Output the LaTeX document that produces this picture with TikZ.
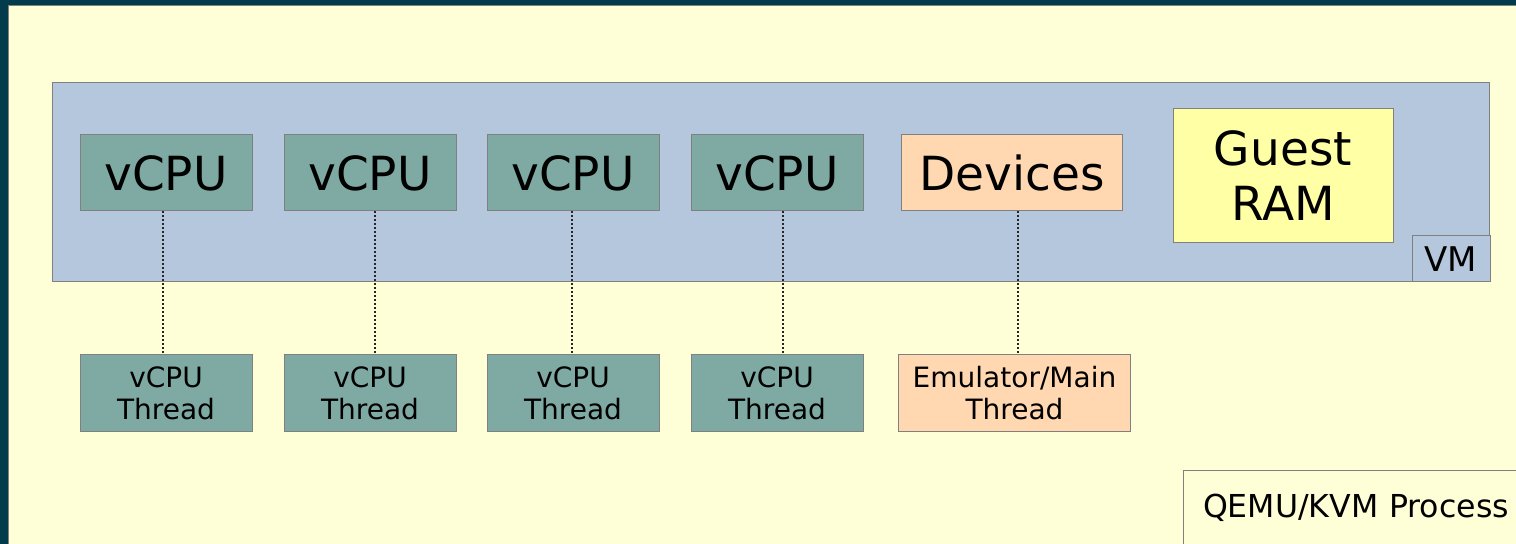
\documentclass[tikz,border=0pt]{standalone}
\usepackage{fontspec}
\setmainfont{DejaVu Sans}
\usepackage{tikz}
\definecolor{frame}{HTML}{023B4C}
\definecolor{paper}{HTML}{FFFFD7}
\definecolor{vmblue}{HTML}{B4C7DC}
\definecolor{cpugreen}{HTML}{7FAAA3}
\definecolor{devorange}{HTML}{FFD8B1}
\definecolor{ramyellow}{HTML}{FFFFA6}
\definecolor{edge}{HTML}{808080}

\begin{document}
\begin{tikzpicture}[
  x=0.5pt,y=-0.5pt,
  every node/.style={align=center,inner sep=0pt,outer sep=0pt},
  box/.style={draw=edge,line width=0.5pt,rectangle},
  big/.style={font=\fontsize{23.5}{27.5}\selectfont},
  small/.style={font=\fontsize{15.8}{18}\selectfont},
  cpu/.style={box,big,fill=cpugreen,minimum width=86pt,minimum height=38pt},
  thr/.style={box,font=\fontsize{14}{16}\selectfont,fill=cpugreen,minimum width=86pt,minimum height=38.5pt},
  link/.style={dash pattern=on 1pt off 1pt,line width=0.6pt,black!85}
]
\useasboundingbox (0,0) rectangle (1516,544);
\clip (0,0) rectangle (1516,544);
\fill[frame] (0,0) rectangle (1516,544);
\filldraw[fill=paper,draw=edge,line width=0.5pt] (8,6) rectangle (1530,560);

% the VM
\node[box,fill=vmblue,minimum width=718.5pt,minimum height=99.5pt] (vm) at (770.5,182.5) {};
\node[box,fill=vmblue,font=\fontsize{17}{19}\selectfont,minimum width=39pt,minimum height=23pt] (vmlabel) at (1451,259) {VM};
\node[cpu] (cpu1) at (166,173) {vCPU};
\node[cpu] (cpu2) at (370,173) {vCPU};
\node[cpu] (cpu3) at (573,173) {vCPU};
\node[cpu] (cpu4) at (777,173) {vCPU};
\node[cpu,fill=devorange,minimum width=110.5pt] (dev) at (1012,173) {Devices};
\node[box,big,fill=ramyellow,minimum width=110pt,minimum height=67pt] (ram) at (1283,176) {Guest\\RAM};

% host threads
\node[thr] (thr1) at (166,393.5) {vCPU\\Thread};
\node[thr] (thr2) at (370,393.5) {vCPU\\Thread};
\node[thr] (thr3) at (573,393.5) {vCPU\\Thread};
\node[thr] (thr4) at (777,393.5) {vCPU\\Thread};
\node[thr,fill=devorange,minimum width=116pt] (emu) at (1014.5,393.5) {Emulator/Main\\Thread};

\foreach \i/\dx in {1/-3,2/5,3/-1,4/6}
  \draw[link] ([xshift=\dx*0.5pt]cpu\i.south) -- ([xshift=\dx*0.5pt]thr\i.north);
\draw[link] ([xshift=3pt]dev.south) -- ([xshift=3pt]dev.south |- emu.north);

% the process
\node[box,fill=paper,small,anchor=north west,minimum height=37pt,inner xsep=10pt,
      text width=170pt,align=left] (qemu) at (1183,471) {QEMU/KVM Process};
\end{tikzpicture}
\end{document}
